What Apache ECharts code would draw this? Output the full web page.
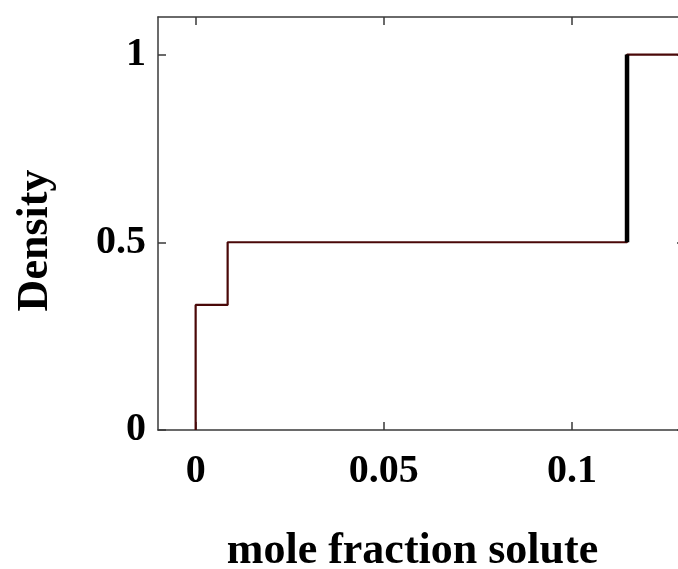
<!DOCTYPE html>
<html>
<head>
<meta charset="utf-8">
<script src="https://cdn.jsdelivr.net/npm/echarts@6/dist/echarts.min.js"></script>
<style>html,body{margin:0;padding:0;background:#fff}#c{width:678px;height:569px}</style>
</head>
<body>
<div id="c"></div>
<script>
// data
const stepX = [0, 0, 0.0085, 0.1146, 0.135];
const stepY = [0, 0.333, 0.5, 1, 1];
const jumpX = [0.1146, 0.1146];
const jumpY = [0.5, 1];
const xTicks = [0, 0.05, 0.1];
const yTicks = [0, 0.5, 1];
const xTitle = 'mole fraction solute';
const yTitle = 'Density';

const font = 'Liberation Serif';
const axisColor = '#3a3a3a';
const chart = echarts.init(document.getElementById('c'));
const fmt = v => String(+v.toFixed(3));
const line = {show: true, onZero: false, lineStyle: {color: axisColor, width: 1.5}};
chart.setOption({
  animation: false,
  grid: {left: 158, top: 17, width: 527, height: 413, containLabel: false, outerBoundsMode: 'none'},
  xAxis: [{
    type: 'value', position: 'bottom', min: -0.01, max: 0.13,
    axisLine: line,
    axisTick: {show: true, inside: true, length: 8, customValues: xTicks, lineStyle: {color: axisColor, width: 1.5}},
    axisLabel: {customValues: xTicks, formatter: fmt, margin: 22, color: '#000', fontFamily: font, fontWeight: 'bold', fontSize: 40},
    splitLine: {show: false},
    name: xTitle, nameLocation: 'middle', nameGap: 100,
    nameTextStyle: {color: '#000', fontFamily: font, fontWeight: 'bold', fontSize: 44, padding: [0, 18, 0, 0]}
  }, {
    type: 'value', position: 'top', min: -0.01, max: 0.13,
    axisLine: line,
    axisTick: {show: true, inside: true, length: 8, customValues: xTicks, lineStyle: {color: axisColor, width: 1.5}},
    axisLabel: {show: false}, splitLine: {show: false}
  }],
  yAxis: [{
    type: 'value', position: 'left', min: 0, max: 1.1,
    axisLine: line,
    axisTick: {show: true, inside: true, length: 8, customValues: yTicks, lineStyle: {color: axisColor, width: 1.5}},
    axisLabel: {customValues: yTicks, formatter: fmt, margin: 12, color: '#000', fontFamily: font, fontWeight: 'bold', fontSize: 40},
    splitLine: {show: false},
    name: yTitle, nameLocation: 'middle', nameGap: 100, nameRotate: 90,
    nameTextStyle: {color: '#000', fontFamily: font, fontWeight: 'bold', fontSize: 44, padding: [0, 34, 0, 0]}
  }, {
    type: 'value', position: 'right', min: 0, max: 1.1,
    axisLine: line,
    axisTick: {show: true, inside: true, length: 8, customValues: yTicks, lineStyle: {color: axisColor, width: 1.5}},
    axisLabel: {show: false}, splitLine: {show: false}
  }],
  series: [{
    type: 'line', step: 'end', symbol: 'none', clip: true,
    data: stepX.map((x, i) => [x, stepY[i]]),
    lineStyle: {color: '#4a0808', width: 2.2}
  }, {
    type: 'line', symbol: 'none', clip: true,
    data: jumpX.map((x, i) => [x, jumpY[i]]),
    lineStyle: {color: '#000', width: 4.5}
  }]
});
</script>
</body>
</html>
